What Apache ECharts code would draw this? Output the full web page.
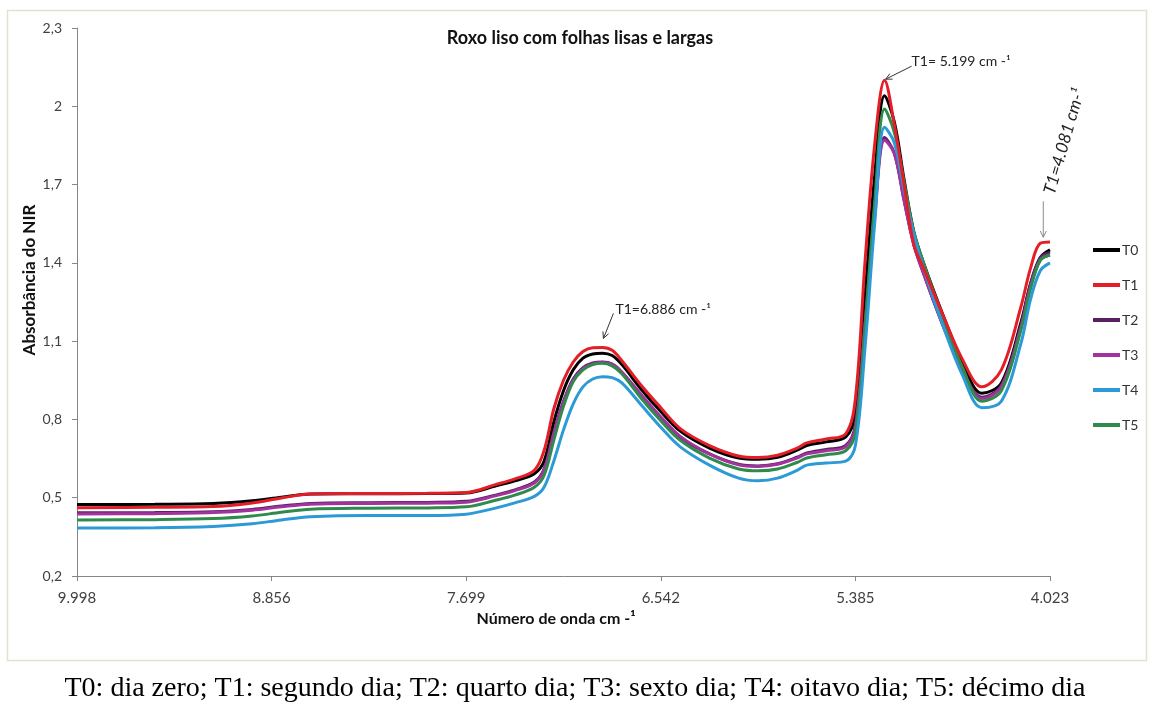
<!DOCTYPE html>
<html>
<head>
<meta charset="utf-8">
<script src="https://cdn.jsdelivr.net/npm/echarts@6/dist/echarts.min.js"></script>
<style>
  html, body { margin: 0; padding: 0; background: #fff; }
  #chart { width: 1149px; height: 704px; }
</style>
</head>
<body>
<div id="chart"></div>
<script>
// wavenumber categories (cm-1), one per axis slot
const wavenumbers = [
  9998, 9941, 9884, 9827, 9770, 9713, 9657, 9600, 9541, 9484, 9427, 9370, 9313, 9256, 9199, 9142, 9085, 9028, 8970, 8913,
  8856, 8798, 8740, 8683, 8625, 8567, 8509, 8451, 8393, 8335, 8278, 8220, 8162, 8104, 8046, 7988, 7930, 7873, 7815, 7757,
  7699, 7641, 7583, 7525, 7468, 7410, 7352, 7294, 7236, 7178, 7120, 7063, 7005, 6947, 6889, 6831, 6773, 6715, 6658, 6600,
  6542, 6484, 6426, 6368, 6311, 6253, 6195, 6137, 6079, 6021, 5964, 5906, 5848, 5790, 5732, 5674, 5616, 5558, 5501, 5443,
  5385, 5317, 5249, 5181, 5113, 5045, 4976, 4908, 4840, 4772, 4704, 4636, 4568, 4500, 4432, 4364, 4295, 4227, 4159, 4091,
  4023
];

const sampleIdx = [0, 8, 14, 18, 21, 24, 30, 36, 40, 43, 45, 47, 48, 49, 50, 51, 52, 53, 54, 55, 56, 58, 60, 62, 65, 68, 70, 72,
  74, 75, 77, 79, 80, 81, 82, 83, 84, 85, 86, 87, 89, 91, 93, 95, 97, 98, 99, 100];

const T0 = [0.474, 0.475, 0.478, 0.488, 0.502, 0.514, 0.515, 0.516, 0.518, 0.545, 0.565, 0.592, 0.64, 0.79, 0.91, 0.99, 1.035, 1.051,
  1.054, 1.045, 1.01, 0.915, 0.83, 0.755, 0.69, 0.652, 0.647, 0.655, 0.682, 0.70, 0.714, 0.733, 0.82, 1.28, 1.74, 2.04, 1.94, 1.72,
  1.52, 1.40, 1.20, 1.02, 0.90, 0.94, 1.17, 1.32, 1.42, 1.45];
const T1 = [0.462, 0.463, 0.466, 0.48, 0.499, 0.514, 0.516, 0.517, 0.52, 0.55, 0.572, 0.605, 0.68, 0.84, 0.95, 1.02, 1.06, 1.075,
  1.076, 1.065, 1.025, 0.93, 0.845, 0.765, 0.70, 0.66, 0.654, 0.663, 0.69, 0.71, 0.725, 0.745, 0.88, 1.41, 1.86, 2.10, 1.93, 1.70,
  1.47, 1.38, 1.20, 1.03, 0.925, 0.99, 1.23, 1.38, 1.475, 1.48];
const T2 = [0.442, 0.443, 0.446, 0.455, 0.468, 0.478, 0.481, 0.482, 0.486, 0.51, 0.53, 0.56, 0.61, 0.75, 0.87, 0.955, 0.998, 1.016,
  1.02, 1.012, 0.98, 0.89, 0.805, 0.73, 0.668, 0.628, 0.622, 0.63, 0.655, 0.672, 0.685, 0.70, 0.78, 1.18, 1.60, 1.88, 1.82, 1.64,
  1.47, 1.36, 1.16, 0.99, 0.885, 0.93, 1.16, 1.32, 1.42, 1.44];
const T3 = [0.438, 0.439, 0.443, 0.452, 0.465, 0.475, 0.478, 0.479, 0.483, 0.507, 0.527, 0.556, 0.605, 0.745, 0.865, 0.95, 0.995, 1.013,
  1.018, 1.012, 0.982, 0.895, 0.81, 0.735, 0.668, 0.626, 0.62, 0.628, 0.652, 0.668, 0.68, 0.695, 0.77, 1.16, 1.58, 1.87, 1.82, 1.64,
  1.47, 1.36, 1.16, 0.99, 0.88, 0.925, 1.15, 1.31, 1.41, 1.43];
const T4 = [0.384, 0.385, 0.39, 0.40, 0.415, 0.427, 0.432, 0.432, 0.437, 0.46, 0.48, 0.505, 0.54, 0.64, 0.76, 0.86, 0.925, 0.955,
  0.964, 0.96, 0.94, 0.855, 0.77, 0.695, 0.625, 0.575, 0.565, 0.575, 0.605, 0.625, 0.633, 0.64, 0.70, 1.08, 1.56, 1.92, 1.86, 1.68,
  1.51, 1.38, 1.16, 0.97, 0.845, 0.87, 1.09, 1.26, 1.37, 1.40];
const T5 = [0.415, 0.416, 0.42, 0.43, 0.444, 0.456, 0.46, 0.461, 0.465, 0.49, 0.51, 0.54, 0.585, 0.72, 0.85, 0.945, 0.99, 1.01,
  1.015, 1.005, 0.975, 0.88, 0.795, 0.72, 0.652, 0.61, 0.603, 0.61, 0.635, 0.652, 0.665, 0.68, 0.75, 1.16, 1.64, 1.99, 1.90, 1.71,
  1.52, 1.40, 1.19, 1.00, 0.87, 0.91, 1.14, 1.30, 1.41, 1.43];

const seriesNames = ['T0', 'T1', 'T2', 'T3', 'T4', 'T5'];
const seriesValues = [T0, T1, T2, T3, T4, T5];
const seriesColors = ['#000000', '#e41e26', '#5c1f66', '#a3339c', '#2b9ad6', '#2f8a4c'];
const yTickValues = [0.2, 0.5, 0.8, 1.1, 1.4, 1.7, 2, 2.3];

const FONT = 'Lato';
const chart = echarts.init(document.getElementById('chart'));

const drawOrder = [0, 2, 3, 5, 4, 1]; // red drawn on top as in the original
const series = seriesNames.map((name, s) => ({
  name,
  type: 'line',
  data: sampleIdx.map((i, k) => [i, seriesValues[s][k]]),
  symbol: 'none',
  smooth: 0.35,
  z: 2 + drawOrder.indexOf(s),
  lineStyle: { width: 3, color: seriesColors[s] },
  itemStyle: { color: seriesColors[s] }
}));

chart.setOption({
  animation: false,
  title: {
    text: 'Roxo liso com folhas lisas e largas',
    left: 575, top: 24, textAlign: 'center',
    textStyle: { fontFamily: FONT, fontSize: 18, fontWeight: 'bold', color: '#111' }
  },
  grid: { left: 77, right: 99, top: 28, bottom: 128 },
  legend: {
    orient: 'vertical', left: 1088, top: 238, icon: 'rect',
    data: seriesNames, itemWidth: 27, itemHeight: 4, itemGap: 21,
    textStyle: { fontFamily: FONT, fontSize: 14, color: '#333', padding: [0, 0, 0, -3] }
  },
  xAxis: {
    type: 'category',
    data: wavenumbers.map(w => (w / 1000).toFixed(3)),
    boundaryGap: false,
    axisLine: { lineStyle: { color: '#868686', width: 1 } },
    axisTick: { interval: 19, length: 5, lineStyle: { color: '#868686' } },
    axisLabel: { interval: 19, margin: 15, fontFamily: FONT, fontSize: 15, color: '#404040' },
    splitLine: { show: false }
  },
  yAxis: {
    type: 'value', min: 0.2, max: 2.3,
    axisLine: { show: true, lineStyle: { color: '#868686', width: 1 } },
    axisTick: { show: true, length: 5, customValues: yTickValues, lineStyle: { color: '#868686' } },
    axisLabel: {
      customValues: yTickValues, margin: 15, fontFamily: FONT, fontSize: 14, color: '#404040',
      formatter: v => String(v).replace('.', ',')
    },
    splitLine: { show: false }
  },
  series
});

// annotations anchored on the T1 peaks
function arrow(x1, y1, x2, y2, color) {
  const a = Math.atan2(y2 - y1, x2 - x1), h = 7, w = 0.45;
  return [
    { type: 'line', shape: { x1, y1, x2, y2 }, style: { stroke: color, lineWidth: 1 } },
    { type: 'polyline', shape: { points: [
      [x2 - h * Math.cos(a - w), y2 - h * Math.sin(a - w)], [x2, y2],
      [x2 - h * Math.cos(a + w), y2 - h * Math.sin(a + w)]] },
      style: { stroke: color, lineWidth: 1, fill: null } }
  ];
}
const px = (i, v) => chart.convertToPixel({ xAxisIndex: 0, yAxisIndex: 0 }, [i, v]);
const p1 = px(54, 1.076), p2 = px(83, 2.10), p3 = px(99, 1.475);
const labelStyle = { fontFamily: FONT, fontSize: 14, fill: '#222' };

chart.setOption({
  graphic: [
    { type: 'rect', silent: true, shape: { x: 7.5, y: 10.5, width: 1139, height: 650 },
      style: { fill: null, stroke: '#e4e0d2', lineWidth: 1.5 } },
    { type: 'text', x: 30, y: 280, rotation: Math.PI / 2,
      style: { text: 'Absorbância do NIR', fontFamily: FONT, fontSize: 17, fontWeight: 'bold', fill: '#111',
        align: 'center', verticalAlign: 'middle' } },
    { type: 'text', x: 556, y: 619,
      style: { text: 'Número de onda cm -¹', fontFamily: FONT, fontSize: 16, fontWeight: 'bold', fill: '#111',
        align: 'center', verticalAlign: 'middle' } },
    ...arrow(p1[0] + 11, p1[1] - 34, p1[0] + 1, p1[1] - 9, '#333'),
    { type: 'text', x: p1[0] + 13, y: p1[1] - 38,
      style: Object.assign({ text: 'T1=6.886 cm -¹', verticalAlign: 'middle' }, labelStyle) },
    ...arrow(p2[0] + 27, p2[1] - 14, p2[0] + 1, p2[1] - 1, '#333'),
    { type: 'text', x: p2[0] + 27, y: p2[1] - 19,
      style: Object.assign({ text: 'T1= 5.199 cm -¹', verticalAlign: 'middle' }, labelStyle) },
    ...arrow(p3[0] + 3, p3[1] - 42, p3[0] + 3, p3[1] - 6, '#8a8a8a'),
    { type: 'text', x: p3[0] + 24, y: p3[1] - 102, rotation: 74 * Math.PI / 180,
      style: { text: 'T1=4.081 cm-¹', fontFamily: FONT, fontSize: 17, fontStyle: 'italic', fill: '#222',
        align: 'center', verticalAlign: 'middle' } },
    { type: 'text', x: 575, y: 689,
      style: { text: 'T0: dia zero; T1: segundo dia; T2: quarto dia; T3: sexto dia; T4: oitavo dia; T5: décimo dia',
        fontFamily: 'Liberation Serif', fontSize: 28, fill: '#000', align: 'center', verticalAlign: 'middle' } }
  ]
});
</script>
</body>
</html>
